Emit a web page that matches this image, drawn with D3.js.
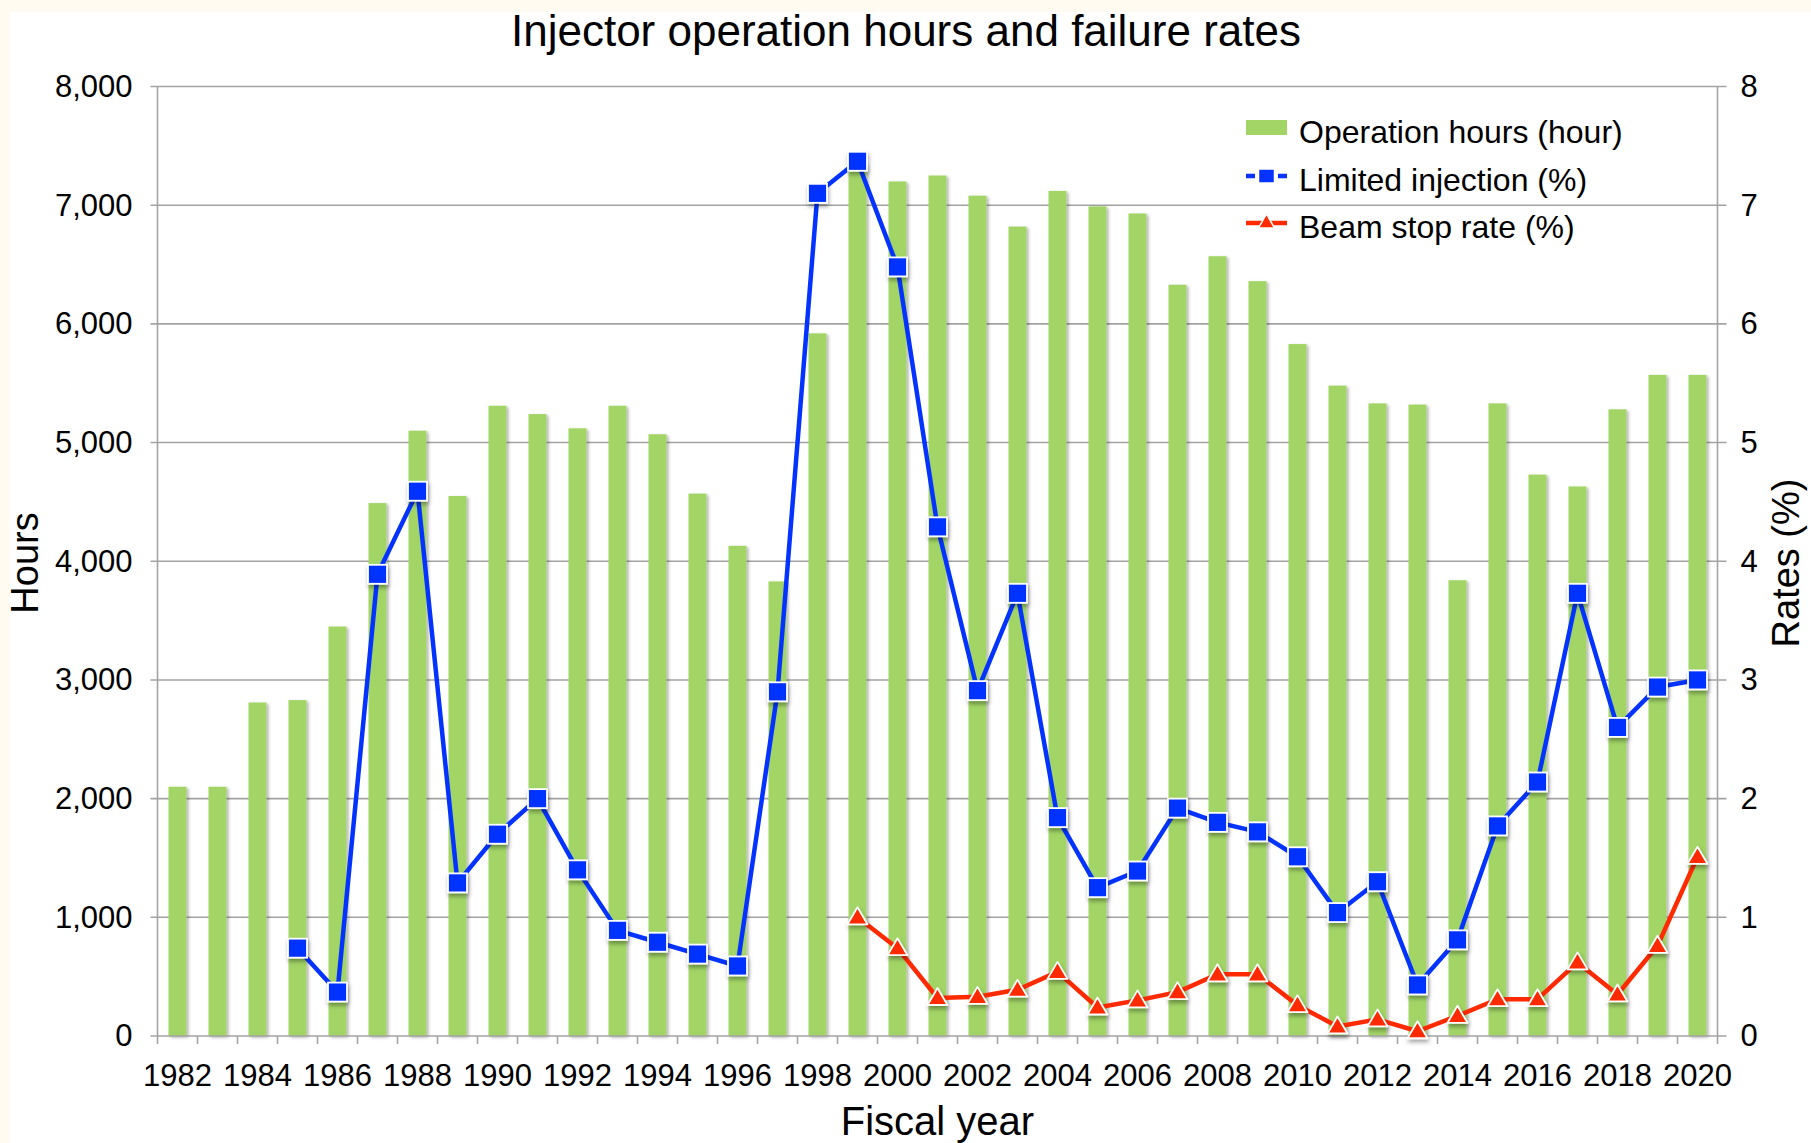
<!DOCTYPE html>
<html>
<head>
<meta charset="utf-8">
<script src="https://cdn.jsdelivr.net/npm/d3@7"></script>
<style>
  html, body { margin: 0; padding: 0; background: #fffbf0; }
  svg { display: block; }
  text { font-family: "Liberation Sans", Arial, Helvetica, sans-serif; fill: #000; }
</style>
</head>
<body>
<svg id="chart" width="1811" height="1143"></svg>
<script>
// ---- Data ----
const years = ["1982","1983","1984","1985","1986","1987","1988","1989","1990","1991",
  "1992","1993","1994","1995","1996","1997","1998","1999","2000","2001","2002","2003",
  "2004","2005","2006","2007","2008","2009","2010","2011","2012","2013","2014","2015",
  "2016","2017","2018","2019","2020"];
const yearLabels = ["1982","1984","1986","1988","1990","1992","1994","1996","1998","2000",
  "2002","2004","2006","2008","2010","2012","2014","2016","2018","2020"];
const operationHours = [2100,2100,2810,2830,3450,4490,5100,4550,5310,5240,5120,5310,5070,
  4570,4130,3830,5920,7350,7200,7250,7080,6820,7120,6990,6930,6330,6570,6360,5830,5480,
  5330,5320,3840,5330,4730,4630,5280,5570,5570];
const limitedInjection = [null,null,null,0.74,0.37,3.89,4.59,1.29,1.70,2.00,1.40,0.89,0.79,
  0.69,0.59,2.90,7.10,7.37,6.48,4.29,2.91,3.73,1.84,1.25,1.39,1.92,1.80,1.72,1.51,1.04,1.30,
  0.43,0.81,1.77,2.14,3.73,2.60,2.94,3.00];
const beamStopRate = [null,null,null,null,null,null,null,null,null,null,null,null,null,null,
  null,null,null,1.00,0.74,0.32,0.33,0.39,0.54,0.24,0.30,0.37,0.52,0.52,0.26,0.08,0.14,0.04,
  0.17,0.31,0.31,0.62,0.35,0.76,1.51];
const hourTicks = [0,1000,2000,3000,4000,5000,6000,7000,8000];
const rateTicks = [0,1,2,3,4,5,6,7,8];
const seriesNames = ["Operation hours (hour)","Limited injection (%)","Beam stop rate (%)"];

// ---- Layout ----
const W = 1811, H = 1143;
const pLeft = 157.5, pRight = 1717.5, pTop = 86.5, pBottom = 1036;
const green = "#a2d566", blue = "#0433ff", red = "#ff2a00", grid = "#a3a3a3";
const FONT = 31;

const svg = d3.select("#chart");
const defs = svg.append("defs");
const sh = defs.append("filter").attr("id","shadow").attr("x","-30%").attr("y","-30%").attr("width","160%").attr("height","160%");
sh.append("feDropShadow").attr("dx",2).attr("dy",1.5).attr("stdDeviation",1.5)
  .attr("flood-color","#000").attr("flood-opacity",0.3);
const msh = defs.append("filter").attr("id","mshadow").attr("x","-50%").attr("y","-50%").attr("width","200%").attr("height","200%");
msh.append("feDropShadow").attr("dx",1).attr("dy",3).attr("stdDeviation",2)
  .attr("flood-color","#000").attr("flood-opacity",0.35);

// background
svg.append("rect").attr("x",0).attr("y",0).attr("width",W).attr("height",H).attr("fill","#fffbf0");
svg.append("rect").attr("x",10).attr("y",12).attr("width",W-10).attr("height",H-12).attr("fill","#ffffff");

// scales
const x = d3.scaleBand().domain(years).range([pLeft, pRight]).paddingInner(0.55).paddingOuter(0.275);
const yH = d3.scaleLinear().domain([0, 8000]).range([pBottom, pTop]);
const yR = d3.scaleLinear().domain([0, 8]).range([pBottom, pTop]);
const cx = d => x(d) + x.bandwidth() / 2;

// gridlines
svg.append("g").selectAll("line").data(hourTicks.slice(1)).join("line")
  .attr("x1", pLeft - 7).attr("x2", pRight + 9)
  .attr("y1", d => yH(d)).attr("y2", d => yH(d))
  .attr("stroke", grid).attr("stroke-width", 1.6);

// bars
svg.append("g").attr("filter","url(#shadow)").selectAll("rect")
  .data(years.map((y, i) => ({ y, v: operationHours[i] }))).join("rect")
  .attr("x", d => x(d.y)).attr("width", x.bandwidth())
  .attr("y", d => yH(d.v)).attr("height", d => pBottom - yH(d.v))
  .attr("fill", green);

// axes lines
svg.append("line").attr("x1", pLeft).attr("x2", pLeft).attr("y1", pTop).attr("y2", pBottom)
  .attr("stroke", grid).attr("stroke-width", 1.6);
svg.append("line").attr("x1", pRight).attr("x2", pRight).attr("y1", pTop).attr("y2", pBottom)
  .attr("stroke", grid).attr("stroke-width", 1.6);
svg.append("line").attr("x1", pLeft - 7).attr("x2", pRight + 9).attr("y1", pBottom).attr("y2", pBottom)
  .attr("stroke", grid).attr("stroke-width", 1.6);

// x ticks at band boundaries
const boundaries = years.map(d => x(d) - x.step() * x.paddingInner() / 2).concat([pRight]);
svg.append("g").selectAll("line").data(boundaries).join("line")
  .attr("x1", d => d).attr("x2", d => d).attr("y1", pBottom).attr("y2", pBottom + 8)
  .attr("stroke", grid).attr("stroke-width", 1.6);

// left axis labels
const leftAxis = d3.axisLeft(yH).tickValues(hourTicks).tickFormat(d3.format(",")).tickSize(0).tickPadding(25);
const gL = svg.append("g").attr("transform", `translate(${pLeft},0)`).call(leftAxis);
gL.select(".domain").remove();
gL.selectAll("text").attr("font-size", FONT).attr("fill", "#000")
  .style("font-family", '"Liberation Sans", Arial, sans-serif');

// right axis labels
const rightAxis = d3.axisRight(yR).tickValues(rateTicks).tickFormat(d3.format("d")).tickSize(0).tickPadding(23);
const gR = svg.append("g").attr("transform", `translate(${pRight},0)`).call(rightAxis);
gR.select(".domain").remove();
gR.selectAll("text").attr("font-size", FONT).attr("fill", "#000")
  .style("font-family", '"Liberation Sans", Arial, sans-serif');

// x labels
svg.append("g").selectAll("text").data(yearLabels).join("text")
  .attr("x", d => cx(d)).attr("y", 1086)
  .attr("text-anchor", "middle").attr("font-size", FONT).text(d => d);

// lines
function drawSeries(values, color, shape) {
  const pts = years.map((y, i) => ({ y, v: values[i] }));
  const line = d3.line().defined(d => d.v != null).x(d => cx(d.y)).y(d => yR(d.v));
  svg.append("path").datum(pts).attr("d", line)
    .attr("fill", "none").attr("stroke", color).attr("stroke-width", 4.5)
    .attr("stroke-linejoin", "round");
  const g = svg.append("g").attr("filter", "url(#mshadow)");
  const valid = pts.filter(d => d.v != null);
  if (shape === "square") {
    g.selectAll("rect").data(valid).join("rect")
      .attr("x", d => cx(d.y) - 9.5).attr("y", d => yR(d.v) - 9.5)
      .attr("width", 19).attr("height", 19)
      .attr("fill", color).attr("stroke", "#fff").attr("stroke-width", 1.8);
  } else {
    g.selectAll("path").data(valid).join("path")
      .attr("d", d => { const X = cx(d.y), Y = yR(d.v);
        return `M${X},${Y - 10}L${X + 10},${Y + 7}L${X - 10},${Y + 7}Z`; })
      .attr("fill", color).attr("stroke", "#fff").attr("stroke-width", 1.8)
      .attr("stroke-linejoin", "round");
  }
}
drawSeries(limitedInjection, blue, "square");
drawSeries(beamStopRate, red, "triangle");

// legend
const LFONT = 32;
const lg = svg.append("g");
const lx = 1246, lw = 41, tx = 1299;
lg.append("rect").attr("x", lx).attr("y", 120).attr("width", lw).attr("height", 15).attr("fill", green);
lg.append("text").attr("x", tx).attr("y", 143).attr("font-size", LFONT).text(seriesNames[0]);
lg.append("line").attr("x1", lx).attr("x2", lx + lw).attr("y1", 176).attr("y2", 176)
  .attr("stroke", blue).attr("stroke-width", 4.5).attr("stroke-dasharray", "9,3,17,3,9");
lg.append("rect").attr("x", lx + lw / 2 - 8).attr("y", 169).attr("width", 16).attr("height", 14)
  .attr("fill", blue).attr("stroke", "#fff").attr("stroke-width", 1.5);
lg.append("text").attr("x", tx).attr("y", 191).attr("font-size", LFONT).text(seriesNames[1]);
lg.append("line").attr("x1", lx).attr("x2", lx + lw).attr("y1", 223).attr("y2", 223)
  .attr("stroke", red).attr("stroke-width", 4.5);
lg.append("path").attr("d", `M${lx + lw / 2},${214}L${lx + lw / 2 + 8},${228}L${lx + lw / 2 - 8},${228}Z`)
  .attr("fill", red).attr("stroke", "#fff").attr("stroke-width", 1.5);
lg.append("text").attr("x", tx).attr("y", 238).attr("font-size", LFONT).text(seriesNames[2]);

// titles
svg.append("text").attr("x", 906).attr("y", 46).attr("text-anchor", "middle")
  .attr("font-size", 44).text("Injector operation hours and failure rates");
svg.append("text").attr("x", (pLeft + pRight) / 2).attr("y", 1135).attr("text-anchor", "middle")
  .attr("font-size", 40).text("Fiscal year");
svg.append("text").attr("transform", "translate(38,563) rotate(-90)").attr("text-anchor", "middle")
  .attr("font-size", 38).text("Hours");
svg.append("text").attr("transform", "translate(1799,563) rotate(-90)").attr("text-anchor", "middle")
  .attr("font-size", 38).text("Rates (%)");
</script>
</body>
</html>
